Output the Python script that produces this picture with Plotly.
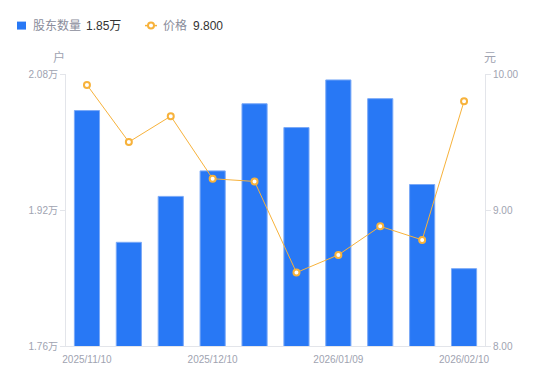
import plotly.graph_objects as go

dates = ["2025/11/10", "2025/11/20", "2025/11/28", "2025/12/10", "2025/12/19",
         "2025/12/31", "2026/01/09", "2026/01/20", "2026/01/30", "2026/02/10"]
holders = [2.037, 1.882, 1.936, 1.966, 2.045, 2.017, 2.073, 2.051, 1.950, 1.851]  # 万户
prices = [9.92, 9.50, 9.69, 9.23, 9.21, 8.54, 8.67, 8.88, 8.78, 9.80]
x_tick_labels = ["2025/11/10", "2025/12/10", "2026/01/09", "2026/02/10"]
left_ticks = [1.76, 1.92, 2.08]
right_ticks = [8.0, 9.0, 10.0]

FONT = "Liberation Sans, Noto Sans CJK SC, sans-serif"
GRAY = "#a0a3b1"
AXIS = "#e3e5ea"
BLUE = "#2878F5"
ORANGE = "#F7B23B"

# page body adds an 8px offset; plot area is 66..485 x 73.5..346 in window pixels
OFF = 8
L, R, T, B = 66, 485, 73.5, 346


def px(x):
    return (x - L) / (R - L)


def py(y):
    return (B - y) / (B - T)


fig = go.Figure()
fig.add_trace(go.Bar(
    x=dates, y=holders, name="股东数量",
    marker=dict(color=BLUE, line=dict(color="#7aa9f7", width=1)),
    width=0.6, yaxis="y",
))
fig.add_trace(go.Scatter(
    x=dates, y=prices, name="价格",
    mode="lines+markers", yaxis="y2",
    line=dict(color=ORANGE, width=1),
    marker=dict(symbol="circle", size=6, color="white", line=dict(color=ORANGE, width=2)),
))

shapes = [
    dict(type="rect", xref="paper", yref="paper", x0=px(17), x1=px(26), y0=py(29), y1=py(21),
         fillcolor=BLUE, line=dict(width=0), layer="above"),
    dict(type="line", xref="paper", yref="paper", x0=px(145), x1=px(157), y0=py(25), y1=py(25),
         line=dict(color=ORANGE, width=1.5), layer="above"),
    dict(type="circle", xref="paper", yref="paper", x0=px(148), x1=px(154), y0=py(28), y1=py(22),
         fillcolor="white", line=dict(color=ORANGE, width=2), layer="above"),
]


def label(text, x, y, color, size=12, anchor="left"):
    return dict(text=text, xref="paper", yref="paper", x=px(x), y=py(y),
                xanchor=anchor, yanchor="middle", showarrow=False,
                font=dict(size=size, color=color, family=FONT))


annotations = [
    label("股东数量", 31, 25, "#8a8d9b"),
    label("1.85万", 84, 25, "#333333"),
    label("价格", 161, 25, "#8a8d9b"),
    label("9.800", 191, 25, "#333333"),
    label("户", 59, 57, GRAY, anchor="center"),
    label("元", 490, 57, GRAY, anchor="center"),
]

fig.update_layout(
    width=550 - OFF, height=381 - OFF,
    margin=dict(l=L - OFF, r=550 - R, t=T - OFF, b=381 - B, autoexpand=False),
    paper_bgcolor="white", plot_bgcolor="white",
    font=dict(family=FONT, size=10, color=GRAY),
    showlegend=False,
    bargap=0.4,
    xaxis=dict(type="category", tickmode="array", tickvals=x_tick_labels, ticktext=x_tick_labels,
               showline=True, linecolor=AXIS, linewidth=1, ticks="outside", ticklen=4,
               tickcolor="rgba(0,0,0,0)", showgrid=False,
               tickfont=dict(size=10, color=GRAY), range=[-0.5, 9.5], automargin=False),
    yaxis=dict(range=[1.76, 2.08], tickvals=left_ticks,
               ticktext=[f"{v:.2f}万" for v in left_ticks],
               showline=True, linecolor=AXIS, linewidth=1, ticks="outside", ticklen=5,
               tickcolor=AXIS, showgrid=False, zeroline=False, automargin=False,
               tickfont=dict(size=10, color=GRAY)),
    yaxis2=dict(range=[8, 10], tickvals=right_ticks,
                ticktext=[f"{v:.2f}" for v in right_ticks],
                overlaying="y", side="right", automargin=False,
                showline=True, linecolor=AXIS, linewidth=1, ticks="outside", ticklen=5,
                tickcolor=AXIS, showgrid=False, zeroline=False,
                tickfont=dict(size=10, color=GRAY)),
    shapes=shapes,
    annotations=annotations,
)

fig.write_html("out.html")
